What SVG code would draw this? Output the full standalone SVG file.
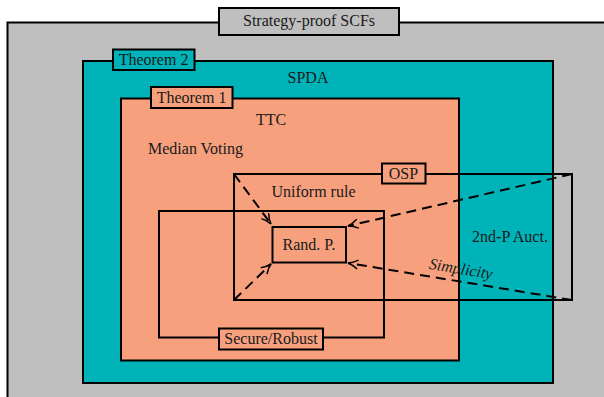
<svg xmlns="http://www.w3.org/2000/svg" width="604" height="397" viewBox="0 0 604 397">
<style>
text{font-family:"Liberation Serif","Times New Roman",serif;font-size:16px;fill:#1a1a1a}
.b{stroke:#000;stroke-width:2}
.ln{fill:none;stroke:#000;stroke-width:2}
.d{fill:none;stroke:#000;stroke-width:2;stroke-dasharray:10,6}
.g{fill:#bfbfbf}
.t{fill:#00b3b8}
.s{fill:#f6a07e}
</style>
<defs>
<marker id="ah" viewBox="0 0 12 12" refX="11" refY="6" markerWidth="12" markerHeight="12" markerUnits="userSpaceOnUse" orient="auto">
<path d="M1,1.5 Q6,5 11,6 Q6,7 1,10.5" fill="none" stroke="#000" stroke-width="1.5"/>
</marker>
</defs>
<g id="strategy-proof">
<rect class="g b" x="7.5" y="22.5" width="620" height="400"/>
<rect class="g b" x="219" y="8" width="180" height="27"/>
<text x="309" y="26" text-anchor="middle">Strategy-proof SCFs</text>
</g>
<g id="theorem2">
<rect class="t b" x="83" y="61" width="470" height="322"/>
<rect class="t b" x="113" y="49.5" width="81.5" height="20.5"/>
<text x="153.5" y="65" text-anchor="middle">Theorem 2</text>
<text x="308" y="83" text-anchor="middle">SPDA</text>
</g>
<g id="theorem1">
<rect class="s b" x="121" y="98.5" width="338" height="262"/>
<rect class="s b" x="151" y="87" width="81.5" height="21"/>
<text x="191.5" y="102.5" text-anchor="middle">Theorem 1</text>
<text x="271" y="125" text-anchor="middle">TTC</text>
<text x="148" y="154">Median Voting</text>
</g>
<g id="secure">
<rect class="ln" x="159" y="211" width="225" height="126.5"/>
<rect class="s b" x="219" y="328.5" width="104" height="21"/>
<text x="271" y="344" text-anchor="middle">Secure/Robust</text>
</g>
<g id="osp">
<rect class="ln" x="234" y="174" width="338" height="126"/>
<rect class="s b" x="382" y="163.5" width="43.5" height="20"/>
<text x="403.5" y="178.5" text-anchor="middle">OSP</text>
<text x="271.5" y="197">Uniform rule</text>
<text x="510" y="242" text-anchor="middle">2nd-P Auct.</text>
</g>
<g id="randp">
<rect class="s b" x="272.5" y="227" width="73.5" height="35.5"/>
<text x="309" y="250" text-anchor="middle">Rand. P.</text>
</g>
<g id="connectors">
<line class="d" x1="234" y1="174" x2="271" y2="224" marker-end="url(#ah)"/>
<line class="d" x1="234" y1="300" x2="271" y2="264" marker-end="url(#ah)"/>
<line class="d" x1="572" y1="174" x2="348" y2="226" marker-end="url(#ah)"/>
<line class="d" x1="572" y1="300" x2="348" y2="263" marker-end="url(#ah)"/>
<text x="460" y="274" text-anchor="middle" font-style="italic" transform="rotate(9.4 460 274)">Simplicity</text>
</g>
</svg>
